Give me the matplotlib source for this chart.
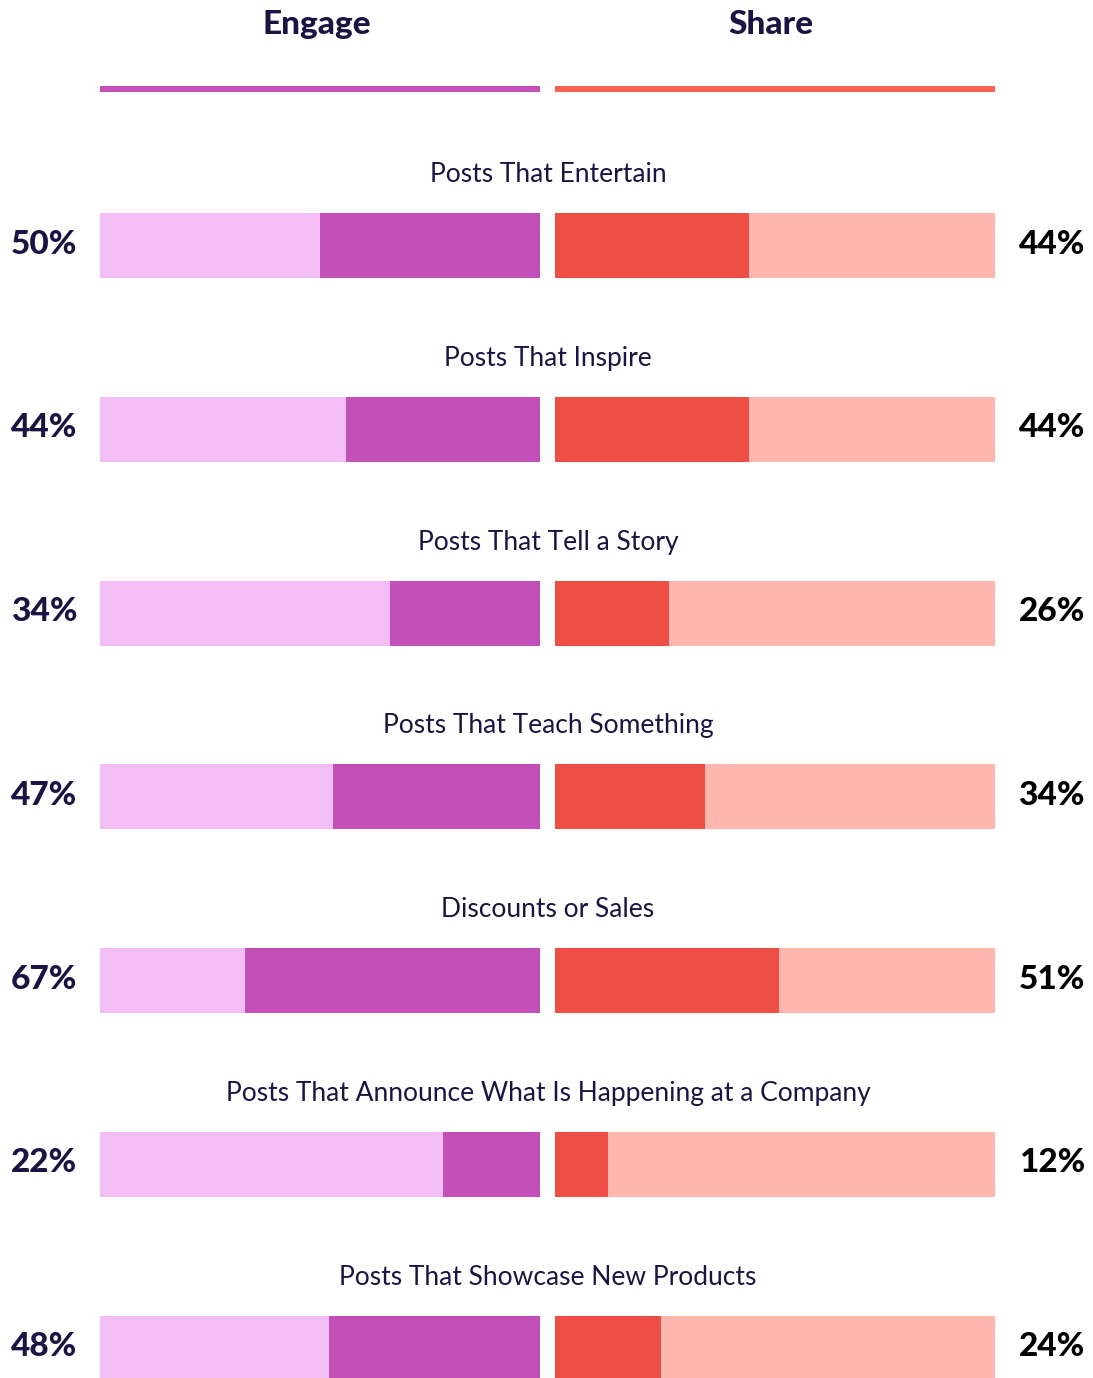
import numpy as np
import matplotlib
matplotlib.use("Agg")
import matplotlib.pyplot as plt

## Datos
categorias = ["Posts That Entertain", "Posts That Inspire", "Posts That Tell a Story",
              "Posts That Teach Something", "Discounts or Sales",
              "Posts That Announce What Is Happening at a Company",
              "Posts That Showcase New Products"]
engage = [50, 44, 34, 47, 67, 22, 48]
share  = [44, 44, 26, 34, 51, 12, 24]
titulos = ["Engage", "Share"]

## Estilo
navy = "#1b1442"
rosa_claro = "#f3bdf5"
violeta = "#c34fb8"
rojo = "#ee4f45"
salmon = "#fdb7ae"
linea_roja = "#f7614f"

plt.rcParams['font.family'] = ['Lato', 'DejaVu Sans']

W, H = 1093, 1378
fig = plt.figure(figsize=(W/100, H/100), dpi=100)
ax = fig.add_axes([0, 0, 1, 1])

# eje y en "filas": fila 0 centrada en 245.5 px, paso 183.8 px
paso = 183.8
y0 = 245.5
ax.set_xlim(0, W)
ax.set_ylim((H - y0)/paso, -y0/paso)
ax.axis('off')

izq0, ancho, der0 = 100, 440, 555
alto = 65/paso
y = np.arange(len(categorias))
eng = np.array(engage)/100.0*ancho
shr = np.array(share)/100.0*ancho

# barras Engage (crecen desde el centro hacia la izquierda)
ax.barh(y, ancho, left=izq0, height=alto, color=rosa_claro, linewidth=0)
ax.barh(y, eng, left=izq0+ancho-eng, height=alto, color=violeta, linewidth=0)
# barras Share (crecen desde el centro hacia la derecha)
ax.barh(y, ancho, left=der0, height=alto, color=salmon, linewidth=0)
ax.barh(y, shr, left=der0, height=alto, color=rojo, linewidth=0)

for i in range(len(categorias)):
    ax.text(548, i - 71/paso, categorias[i], ha='center', va='center',
            fontsize=19, color=navy)
    ax.text(11, i - 1.5/paso, f"{engage[i]}%", ha='left', va='center',
            fontsize=24, fontweight='black', color=navy)
    ax.text(1085, i - 1.5/paso, f"{share[i]}%", ha='right', va='center',
            fontsize=24, fontweight='black', color='black')

# encabezados
yl = (89 - y0)/paso
ax.plot([izq0, izq0+ancho], [yl, yl], color=violeta, lw=4.3, solid_capstyle='butt')
ax.plot([der0, der0+ancho], [yl, yl], color=linea_roja, lw=4.3, solid_capstyle='butt')
yt = (34 - y0)/paso
ax.text(317, yt, titulos[0], ha='center', va='baseline', fontsize=24, fontweight='black', color=navy)
ax.text(771, yt, titulos[1], ha='center', va='baseline', fontsize=24, fontweight='black', color=navy)

fig.savefig("out.png", dpi=100)
